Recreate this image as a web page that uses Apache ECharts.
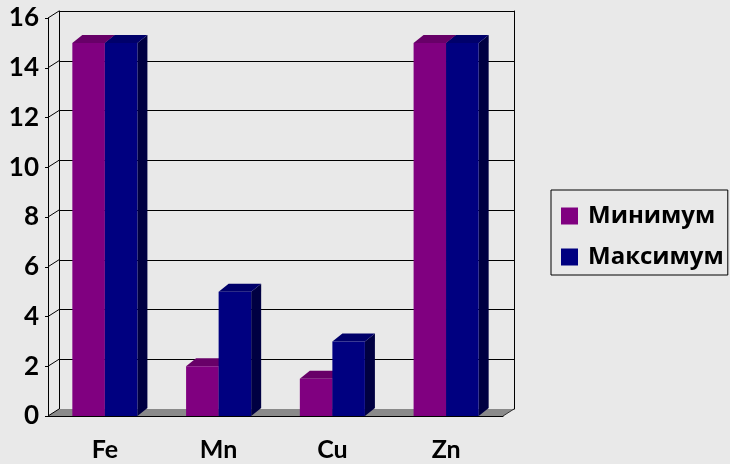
<!DOCTYPE html>
<html>
<head>
<meta charset="utf-8">
<script src="https://cdn.jsdelivr.net/npm/echarts@6/dist/echarts.min.js"></script>
<style>
  html, body { margin: 0; padding: 0; background: #e9e9e9; }
  #chart { width: 730px; height: 464px; }
</style>
</head>
<body>
<div id="chart"></div>
<script>
// Trace element content, minimum and maximum per element
const categories = ['Fe', 'Mn', 'Cu', 'Zn'];
const minValues = [15, 2, 1.5, 15];
const maxValues = [15, 5, 3, 15];
const seriesNames = ['Минимум', 'Максимум'];
const yTicks = [0, 2, 4, 6, 8, 10, 12, 14, 16];

// Pseudo-3D depth offsets (pixels) for the wall and for the bar prisms
const WALL_DX = 11, WALL_DY = -7;
const BAR_DX = 10, BAR_DY = -8;
const BAR_SHARE = 0.286; // width of one bar as a share of the category band

const faces = [
  { front: '#800080', top: '#680068', side: '#4a004a' },
  { front: '#000080', top: '#00006a', side: '#000042' }
];

const chart = echarts.init(document.getElementById('chart'));

function barRenderer(seriesIdx) {
  return function (params, api) {
    const cat = api.value(0);
    const v = api.value(1);
    const base = api.coord([cat, 0]);
    const top = api.coord([cat, v]);
    const band = api.size([1, 0])[0];
    const bw = band * BAR_SHARE;
    const x0 = base[0] + (seriesIdx === 0 ? -bw : 0);
    const x1 = x0 + bw;
    const f = faces[seriesIdx];
    return {
      type: 'group',
      children: [
        {
          type: 'polygon',
          shape: { points: [[x1, top[1]], [x1 + BAR_DX, top[1] + BAR_DY], [x1 + BAR_DX, base[1] + BAR_DY], [x1, base[1]]] },
          style: { fill: f.side }
        },
        {
          type: 'polygon',
          shape: { points: [[x0, top[1]], [x1, top[1]], [x1 + BAR_DX, top[1] + BAR_DY], [x0 + BAR_DX, top[1] + BAR_DY]] },
          style: { fill: f.top }
        },
        {
          type: 'rect',
          shape: { x: x0, y: top[1], width: bw, height: base[1] - top[1] },
          style: { fill: f.front }
        }
      ]
    };
  };
}

// Floor slab and the diagonal links between front ticks and back wall
function floorRenderer(params, api) {
  const c0 = api.coord([0, 0]);
  const band = api.size([1, 0])[0];
  const left = c0[0] - band / 2;
  const right = left + band * categories.length;
  const y0 = c0[1];
  const children = [
    {
      type: 'polygon',
      shape: { points: [[left, y0], [right, y0], [right + WALL_DX, y0 + WALL_DY], [left + WALL_DX, y0 + WALL_DY]] },
      style: { fill: '#8a8a8a' }
    },
    {
      type: 'line',
      shape: { x1: right, y1: y0, x2: right + WALL_DX, y2: y0 + WALL_DY },
      style: { stroke: '#333', lineWidth: 1 }
    }
  ];
  yTicks.forEach(function (t) {
    const y = api.coord([0, t])[1];
    children.push({
      type: 'line',
      shape: { x1: left, y1: y, x2: left + WALL_DX, y2: y + WALL_DY },
      style: { stroke: '#000', lineWidth: 1 }
    });
  });
  return { type: 'group', children: children };
}

const option = {
  backgroundColor: '#e9e9e9',
  animation: false,
  grid: [
    { left: 48, right: 227, top: 18, bottom: 48 },
    { left: 59, right: 216, top: 11, bottom: 55 }
  ],
  legend: {
    data: seriesNames,
    orient: 'vertical',
    left: 551,
    top: 190,
    icon: 'rect',
    itemWidth: 17,
    itemHeight: 17,
    itemGap: 17,
    padding: [14, 4, 6, 10],
    borderColor: '#000',
    borderWidth: 1,
    textStyle: { fontFamily: 'Open Sans', fontWeight: 'bold', fontSize: 24, lineHeight: 24, color: '#000', padding: [0, 0, 0, 5] }
  },
  xAxis: [
    {
      type: 'category', gridIndex: 0, data: categories,
      axisLine: { lineStyle: { color: '#000', width: 1 } },
      axisTick: { length: 6, lineStyle: { color: '#000' } },
      axisLabel: { fontFamily: 'Lato', fontWeight: 'bold', fontSize: 25, color: '#000', margin: 21 }
    },
    {
      type: 'category', gridIndex: 1, data: categories, show: false
    }
  ],
  yAxis: [
    {
      type: 'value', gridIndex: 0, min: 0, max: 16, interval: 2,
      axisLine: { show: true, lineStyle: { color: '#000', width: 1 } },
      axisTick: { show: true, length: 3, lineStyle: { color: '#000' } },
      splitLine: { show: false },
      axisLabel: { fontFamily: 'Lato', fontWeight: 'bold', fontSize: 26, color: '#000', margin: 9 }
    },
    {
      type: 'value', gridIndex: 1, min: 0, max: 16, interval: 2,
      axisLine: { show: true, lineStyle: { color: '#000', width: 1 } },
      axisTick: { show: false },
      axisLabel: { show: false },
      splitLine: { show: true, lineStyle: { color: '#000', width: 1 } }
    },
    {
      type: 'value', gridIndex: 1, min: 0, max: 16, interval: 2, position: 'right',
      axisLine: { show: true, lineStyle: { color: '#000', width: 1 } },
      axisTick: { show: false },
      axisLabel: { show: false },
      splitLine: { show: false }
    }
  ],
  series: [
    {
      type: 'custom', name: 'floor', xAxisIndex: 0, yAxisIndex: 0,
      data: [[0, 0]], renderItem: floorRenderer, z: 1, silent: true
    },
    {
      type: 'custom', name: seriesNames[0], xAxisIndex: 0, yAxisIndex: 0,
      itemStyle: { color: faces[0].front },
      data: minValues.map(function (v, i) { return [i, v]; }),
      encode: { x: 0, y: 1 },
      renderItem: barRenderer(0), z: 3
    },
    {
      type: 'custom', name: seriesNames[1], xAxisIndex: 0, yAxisIndex: 0,
      itemStyle: { color: faces[1].front },
      data: maxValues.map(function (v, i) { return [i, v]; }),
      encode: { x: 0, y: 1 },
      renderItem: barRenderer(1), z: 4
    }
  ]
};

chart.setOption(option);
</script>
</body>
</html>
